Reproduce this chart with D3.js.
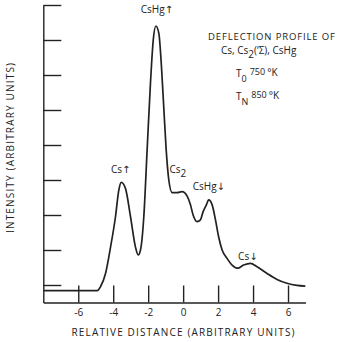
<!DOCTYPE html>
<html>
<head>
<meta charset="utf-8">
<script src="https://cdn.jsdelivr.net/npm/d3@7"></script>
<style>
  body { margin: 0; background: #fff; }
  svg text { font-family: "Open Sans", "DejaVu Sans", sans-serif; fill: #222; }
</style>
</head>
<body>
<div id="chart"></div>
<script>
// relative distance (x) and intensity (y)
var distance = [-7.97, -4.91, -4.73, -4.44, -4.15, -3.87, -3.68, -3.54, -3.30, -3.01,
    -2.73, -2.57, -2.44, -2.25, -2.06, -1.87, -1.71, -1.56, -1.39, -1.24,
    -1.11, -0.97, -0.82, -0.63, -0.34, -0.06, 0.23, 0.42, 0.57, 0.80,
    0.99, 1.14, 1.33, 1.46, 1.66, 1.85, 2.03, 2.23, 2.51, 2.80,
    3.12, 3.46, 3.85, 4.23, 4.80, 5.37, 5.94, 6.51, 6.99];
var intensity = [0.84, 0.84, 0.95, 1.33, 2.09, 2.95, 3.71, 3.93, 3.76, 2.95,
    2.09, 1.86, 2.00, 2.95, 4.86, 6.76, 8.00, 8.40, 8.19, 7.24,
    6.09, 4.86, 4.00, 3.64, 3.64, 3.67, 3.54, 3.29, 3.00, 2.81,
    2.86, 3.09, 3.29, 3.43, 3.29, 2.86, 2.38, 2.00, 1.76, 1.57,
    1.48, 1.57, 1.62, 1.52, 1.33, 1.16, 1.05, 0.99, 0.97];

var xTicks = [-6, -4, -2, 0, 2, 4, 6];
var yTicks = [1, 2, 3, 4, 5, 6, 7, 8, 9];

// peak labels: text, subscript, x / y in data units
var peakNames = ["CsHg\u2191", "Cs\u2191", "Cs", "CsHg\u2193", "Cs\u2193"];
var peakSubs = ["", "", "2", "", ""];
var peakX = [-1.50, -3.57, -0.30, 1.47, 3.70];
var peakY = [8.76, 4.2, 4.2, 3.71, 1.72];

var width = 337, height = 342;
var svg = d3.select("#chart").append("svg")
    .attr("width", width)
    .attr("height", height);

var x = d3.scaleLinear().domain([-8, 7]).range([43.3, 305.5]);
var y = d3.scaleLinear().domain([0.5, 9]).range([302.5, 5]);

var ink = "#222";

// y axis: ticks point into the plot, no labels
var yAxis = svg.append("g")
    .attr("transform", "translate(" + x(-8) + ",0)")
    .call(d3.axisRight(y).tickValues(yTicks).tickSize(18).tickSizeOuter(0).tickFormat(""));

// x axis: ticks point up, labels below
var xAxis = svg.append("g")
    .attr("transform", "translate(0," + y(0.5) + ")")
    .call(d3.axisBottom(x).tickValues(xTicks).tickSize(-17).tickSizeOuter(0)
        .tickPadding(6).tickFormat(function(d) { return d; }));

svg.selectAll(".domain, .tick line")
    .attr("stroke", ink)
    .attr("stroke-width", 1.4);
xAxis.selectAll("text").attr("font-size", 10).style("fill", ink);

// profile curve
var pts = distance.map(function(d, i) { return [d, intensity[i]]; });
var line = d3.line()
    .x(function(d) { return x(d[0]); })
    .y(function(d) { return y(d[1]); })
    .curve(d3.curveMonotoneX);

svg.append("path")
    .attr("d", line(pts))
    .attr("fill", "none")
    .attr("stroke", ink)
    .attr("stroke-width", 1.7);

// peak labels
peakNames.forEach(function(name, i) {
    var t = svg.append("text")
        .attr("x", x(peakX[i]))
        .attr("y", y(peakY[i]))
        .attr("text-anchor", "middle")
        .attr("font-size", 10)
        .text(name);
    if (peakSubs[i]) {
        t.append("tspan").attr("dy", 4).text(peakSubs[i]);
    }
});

// axis titles
svg.append("text")
    .attr("x", 183)
    .attr("y", 336)
    .attr("text-anchor", "middle")
    .attr("font-size", 10)
    .attr("textLength", 223)
    .attr("lengthAdjust", "spacing")
    .text("RELATIVE DISTANCE (ARBITRARY UNITS)");

svg.append("text")
    .attr("transform", "translate(14,148) rotate(-90)")
    .attr("text-anchor", "middle")
    .attr("font-size", 10)
    .attr("textLength", 170)
    .attr("lengthAdjust", "spacing")
    .text("INTENSITY (ARBITRARY UNITS)");

// annotation block
svg.append("text")
    .attr("x", 208)
    .attr("y", 39.5)
    .attr("font-size", 9.5)
    .attr("textLength", 127)
    .attr("lengthAdjust", "spacing")
    .text("DEFLECTION PROFILE OF");

var l2 = svg.append("text")
    .attr("x", 221)
    .attr("y", 53.5)
    .attr("font-size", 10);
l2.append("tspan").text("Cs, Cs");
l2.append("tspan").attr("dy", 4).text("2");
l2.append("tspan").attr("dy", -4).text("(\u2018\u03A3), CsHg");

function tempLine(yy, sub, val) {
    var t = svg.append("text").attr("x", 236).attr("y", yy).attr("font-size", 10);
    t.append("tspan").text("T");
    t.append("tspan").attr("dy", 5).attr("font-size", 9).text(sub);
    t.append("tspan").attr("dy", -7).attr("dx", 3).attr("font-size", 9).text(val);
    t.append("tspan").attr("dy", 1).attr("dx", 2).attr("font-size", 10).text("\u00B0K");
}
tempLine(77, "0", "750");
tempLine(100, "N", "850");
</script>
</body>
</html>
